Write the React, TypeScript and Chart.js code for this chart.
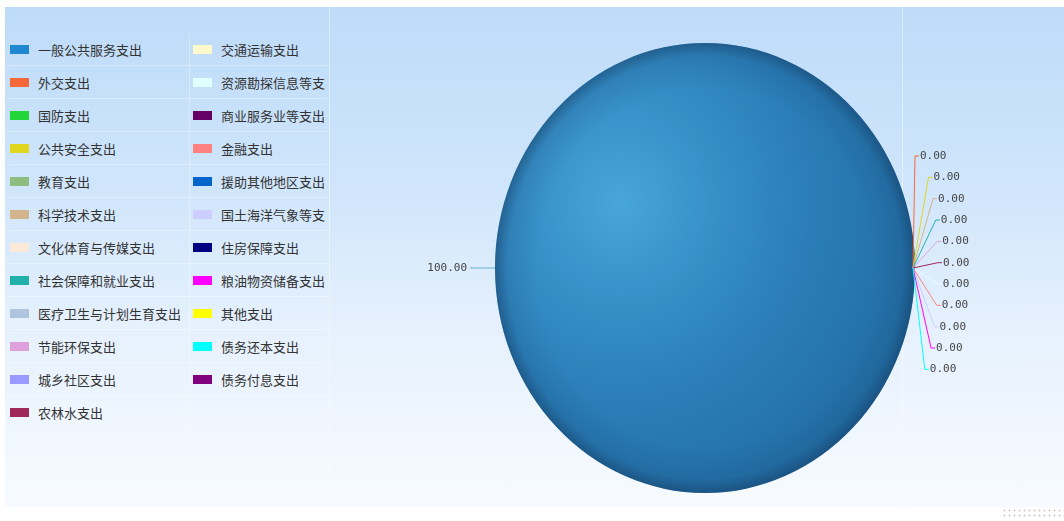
import React, { useEffect, useRef } from 'react';
import { Chart, registerables } from 'chart.js';

Chart.register(...registerables);

const categories: string[] = [
  '一般公共服务支出', '外交支出', '国防支出', '公共安全支出', '教育支出', '科学技术支出',
  '文化体育与传媒支出', '社会保障和就业支出', '医疗卫生与计划生育支出', '节能环保支出', '城乡社区支出', '农林水支出',
  '交通运输支出', '资源勘探信息等支出', '商业服务业等支出', '金融支出', '援助其他地区支出', '国土海洋气象等支出',
  '住房保障支出', '粮油物资储备支出', '其他支出', '债务还本支出', '债务付息支出',
];

const values: number[] = [
  100, 0, 0, 0, 0, 0,
  0, 0, 0, 0, 0, 0,
  0, 0, 0, 0, 0, 0,
  0, 0, 0, 0, 0,
];

const colors: string[] = [
  '#1f88d0', '#f4683a', '#22d63a', '#e0d61e', '#8fbc7f', '#d2b48c',
  '#fde9d8', '#20b2aa', '#b0c4de', '#dda0dd', '#9999ff', '#a0285a',
  '#fffacd', '#e0ffff', '#660066', '#ff8080', '#0066cc', '#ccccff',
  '#000080', '#ff00ff', '#ffff00', '#00ffff', '#800080',
];

const leftColumnCount = 12;

const SY = 225 / 210;

const ellipsePlugin = {
  id: 'ellipse',
  beforeDatasetsDraw(chart: any) {
    const arc = chart.getDatasetMeta(0).data[0];
    if (!arc) return;
    const ctx = chart.ctx;
    ctx.save();
    ctx.translate(arc.x, arc.y);
    ctx.scale(1, SY);
    ctx.translate(-arc.x, -arc.y);
  },
  afterDatasetsDraw(chart: any) {
    const arc = chart.getDatasetMeta(0).data[0];
    const ctx = chart.ctx;
    if (arc) {
      const R = arc.outerRadius;
      const g = ctx.createRadialGradient(arc.x, arc.y, R * 0.8, arc.x, arc.y, R);
      g.addColorStop(0, 'rgba(15,50,85,0)');
      g.addColorStop(0.7, 'rgba(15,50,85,0.12)');
      g.addColorStop(1, 'rgba(15,50,85,0.45)');
      ctx.fillStyle = g;
      ctx.beginPath();
      ctx.arc(arc.x, arc.y, R, 0, Math.PI * 2);
      ctx.fill();
    }
    ctx.restore();
  },
};

const labelPlugin = {
  id: 'sliceLabels',
  afterDraw(chart: any) {
    const ctx = chart.ctx;
    const meta = chart.getDatasetMeta(0);
    const data = chart.data.datasets[0].data as number[];
    const total = data.reduce((a, b) => a + b, 0);
    ctx.save();
    ctx.font = '11px "DejaVu Sans Mono", monospace';
    ctx.fillStyle = '#444';
    ctx.textBaseline = 'middle';
    ctx.lineWidth = 1;
    const zeros: number[] = [];
    meta.data.forEach((arc: any, i: number) => {
      const v = data[i];
      const pct = total ? (v / total) * 100 : 0;
      const R = arc.outerRadius;
      if (v > 0) {
        const a = (arc.startAngle + arc.endAngle) / 2;
        const ax = arc.x + R * Math.cos(a);
        const ay = arc.y + R * SY * Math.sin(a);
        const left = Math.cos(a) < 0;
        const ex = ax + (left ? -25 : 25);
        ctx.strokeStyle = '#6ab0d4';
        ctx.beginPath();
        ctx.moveTo(ax, ay);
        ctx.lineTo(ex, ay);
        ctx.stroke();
        ctx.textAlign = left ? 'right' : 'left';
        ctx.fillText(pct.toFixed(2), ex + (left ? -3 : 3), ay);
      } else {
        zeros.push(i);
      }
    });
    const n = zeros.length;
    let lastY = -1000;
    zeros.forEach((i, k) => {
      const arc: any = meta.data[i];
      const a = arc.startAngle;
      const ax = arc.x + arc.outerRadius * Math.cos(a) - 2;
      const ay = arc.y + arc.outerRadius * SY * Math.sin(a);
      const t = n > 1 ? -1 + (2 * k) / (n - 1) : 0;
      const by = ay + 112 * t;
      const bx = ax + 2 + 23 * Math.sqrt(Math.max(0, 1 - t * t));
      if (Math.abs(by - lastY) < 18) return;
      lastY = by;
      ctx.strokeStyle = colors[i];
      ctx.beginPath();
      ctx.moveTo(ax, ay);
      ctx.lineTo(bx, by);
      ctx.lineTo(bx + 4, by);
      ctx.stroke();
      ctx.textAlign = 'left';
      ctx.fillStyle = '#444';
      ctx.fillText((0).toFixed(2), bx + 5, by);
    });
    ctx.restore();
  },
};

function pieFill(c: any) {
  const i = c.dataIndex;
  if (i !== 0) return colors[i];
  const chart = c.chart;
  const area = chart.chartArea;
  if (!area) return colors[0];
  const cx = (area.left + area.right) / 2;
  const cy = (area.top + area.bottom) / 2;
  const g = chart.ctx.createRadialGradient(cx - 85, cy - 62, 0, cx - 85, cy - 62, 320);
  g.addColorStop(0, '#47a6dc');
  g.addColorStop(0.3, '#378fc8');
  g.addColorStop(0.6, '#2a7db8');
  g.addColorStop(1, '#226ca3');
  return g;
}

export default function App() {
  const canvasRef = useRef<HTMLCanvasElement | null>(null);

  useEffect(() => {
    if (!canvasRef.current) return;
    const chart = new Chart(canvasRef.current, {
      type: 'pie',
      data: {
        labels: categories,
        datasets: [
          {
            data: values,
            backgroundColor: pieFill as any,
            borderWidth: 0,
            hoverOffset: 0,
          },
        ],
      },
      options: {
        animation: false,
        responsive: false,
        maintainAspectRatio: false,
        rotation: 90,
        layout: { padding: { left: 495, right: 149, top: 58, bottom: 43 } },
        plugins: { legend: { display: false }, tooltip: { enabled: false } },
        events: [],
      },
      plugins: [ellipsePlugin, labelPlugin],
    });
    return () => chart.destroy();
  }, []);

  const left = categories.slice(0, leftColumnCount).map((c, i) => ({ c, color: colors[i] }));
  const right = categories.slice(leftColumnCount).map((c, i) => ({ c, color: colors[i + leftColumnCount] }));
  const rows = left.map((l, i) => [l, right[i]]);

  const cell = (item: any, w: number, borderRight: boolean) => (
    <div
      style={{
        width: w,
        height: 32,
        display: 'flex',
        alignItems: 'center',
        overflow: 'hidden',
        whiteSpace: 'nowrap',
        borderRight: borderRight ? '1px solid rgba(255,255,255,0.35)' : 'none',
        boxSizing: 'border-box',
      }}
    >
      {item ? (
        <>
          <span style={{ display: 'inline-block', width: 19, height: 9, background: item.color, marginLeft: 3, marginRight: 9, flex: '0 0 auto' }} />
          <span>{item.c}</span>
        </>
      ) : null}
    </div>
  );

  return (
    <div style={{ position: 'fixed', left: 0, top: 0, width: 1064, height: 521, background: '#fff', overflow: 'hidden' }}>
      <div
        style={{
          position: 'absolute',
          left: 5,
          top: 7,
          width: 1059,
          height: 500,
          background: 'linear-gradient(to bottom, #bddbf8 0%, #cfe5fb 35%, #e6f1fd 65%, #f7fbff 100%)',
        }}
      />
      <div style={{ position: 'absolute', left: 329, top: 7, width: 1, height: 500, background: 'rgba(255,255,255,0.45)' }} />
      <div style={{ position: 'absolute', left: 902, top: 7, width: 1, height: 500, background: 'rgba(255,255,255,0.45)' }} />
      <div
        style={{
          position: 'absolute',
          left: 1002,
          top: 508,
          width: 62,
          height: 10,
          backgroundImage: 'radial-gradient(circle, #c8c8c8 0.8px, transparent 1.2px)',
          backgroundSize: '5px 5px',
        }}
      />
      <div
        style={{
          position: 'absolute',
          left: 7,
          top: 33,
          width: 320,
          fontFamily: '"Noto Sans CJK SC", sans-serif',
          fontSize: 13,
          color: '#333',
        }}
      >
        {rows.map((r, i) => (
          <div key={i} style={{ display: 'flex', borderBottom: '1px solid rgba(255,255,255,0.35)' }}>
            {cell(r[0], 183, true)}
            {cell(r[1], 136, false)}
          </div>
        ))}
      </div>
      <canvas ref={canvasRef} width={1064} height={521} style={{ position: 'absolute', left: 0, top: 0, width: 1064, height: 521 }} />
    </div>
  );
}
